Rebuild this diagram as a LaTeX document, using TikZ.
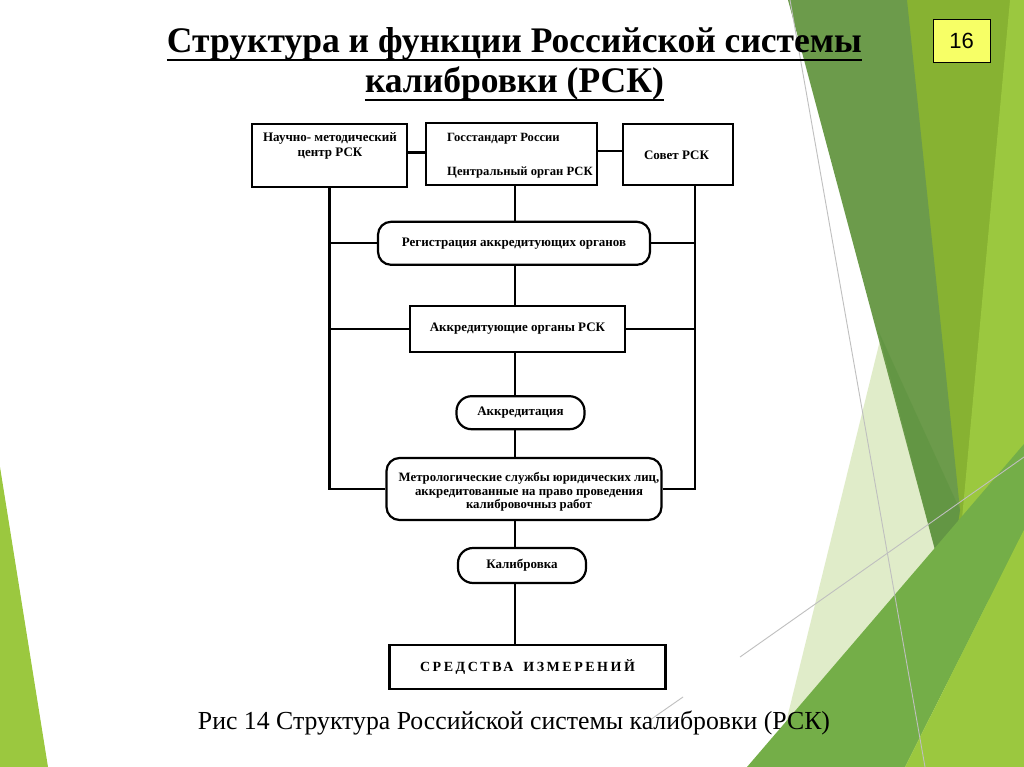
\documentclass[tikz,border=0pt]{standalone}
\usepackage{fontspec}
\setmainfont{Liberation Serif}
\newfontfamily\sansf{Liberation Sans}
\usetikzlibrary{calc}
\definecolor{gbright}{HTML}{9BC83F}
\definecolor{gmid}{HTML}{87B232}
\definecolor{gdark}{HTML}{6C9B4B}
\definecolor{gdeep}{HTML}{5E9440}
\definecolor{gpale}{HTML}{C8DE9E}
\definecolor{gmed}{HTML}{74AE48}
\definecolor{yellowbox}{HTML}{F7FF66}
\newcommand\dfont{\fontsize{13}{15}\selectfont\bfseries}
\tikzset{
  box/.style={draw, line width=2.2, inner sep=0, align=center, font=\dfont},
  rbox/.style={box, rounded corners=13},
  txt/.style={inner sep=0, align=center, font=\dfont},
  conn/.style={line width=2.2},
  thin grey/.style={draw=black!25, line width=0.9},
}
\begin{document}
\begin{tikzpicture}[x=1pt,y=-1pt]
\useasboundingbox (0,0) rectangle (1024,767);
\fill[white] (0,0) rectangle (1024,767);
% ---- background facets ----
\fill[gmid] (880,0) -- (1024,0) -- (1024,300) -- (955,580) -- cycle;
\fill[gbright] (1010,0) -- (1024,0) -- (1024,767) -- (939,767) -- cycle;
\fill[gpale, opacity=0.55] (775,767) -- (885,320) -- (1047,767) -- cycle;
\fill[gdark] (788,0) -- (907,0) -- (960,510) -- (947,595) -- cycle;
\fill[gdeep, opacity=0.6] (878,330) -- (960,510) -- (947,595) -- cycle;
\fill[gmed] (747,767) -- (1024,444) -- (1024,530) -- (905,767) -- cycle;
\fill[gbright] (905,767) -- (1024,530) -- (1024,767) -- cycle;
\fill[gbright] (0,467) -- (48,767) -- (0,767) -- cycle;
\draw[thin grey] (790,0) -- (925,767);
\draw[thin grey] (650,720) -- (683,697);
\draw[thin grey] (740,657) -- (1024,457);
% ---- page number ----
\node[draw=black, line width=0.8, fill=yellowbox, minimum width=57, minimum height=43, inner sep=0,
      font=\sansf\fontsize{22}{24}\selectfont] (pnum) at (961.5,40.5) {16};
% ---- title ----
\node[inner sep=0, anchor=base] (title1) at (514.5,53)
  {\resizebox{695pt}{\height}{\fontsize{36}{40}\selectfont\bfseries Структура и функции Российской системы}};
\node[inner sep=0, anchor=base] (title2) at (514.5,93)
  {\resizebox{299pt}{\height}{\fontsize{36}{40}\selectfont\bfseries калибровки (РСК)}};
\draw[line width=2.6] ([yshift=-7]title1.base west) -- ([yshift=-7]title1.base east);
\draw[line width=2.6] ([yshift=-7]title2.base west) -- ([yshift=-7]title2.base east);
% ---- diagram ----
\coordinate (cx) at (515,0);
\coordinate (rv) at (695,0);
\node[box, minimum width=155, minimum height=63] (nmc) at (329.5,155.5) {};
\node[txt] (nmct) at (330,146) {Научно- методический\\центр РСК};
\node[box, minimum width=171, minimum height=62] (gos) at (511.5,154) {};
\node[txt, anchor=west, align=left, font=\fontsize{12.6}{15}\selectfont\bfseries] (gost) at (447,156)
  {Госстандарт России\\[19pt]Центральный орган РСК};
\node[box, minimum width=110, minimum height=61] (sov) at (677.7,154.5) {};
\node[txt] (sovt) at (676.5,155) {Совет РСК};
\node[rbox, minimum width=272, minimum height=43] (reg) at (514,243.3) {Регистрация аккредитующих органов};
\node[box, minimum width=215, minimum height=46] (acc) at (517.5,329) {Аккредитующие органы РСК};
\node[rbox, rounded corners=15, minimum width=128, minimum height=33] (akk) at (520.5,412.7) {Аккредитация};
\node[rbox, minimum width=275, minimum height=62] (met) at (524,489) {};
\node[txt, font=\fontsize{12.8}{13.7}\selectfont\bfseries] (mett) at (529,492)
  {Метрологические службы юридических лиц,\\аккредитованные на право проведения\\калибровочныз работ};
\node[rbox, rounded corners=15, minimum width=128, minimum height=35] (kal) at (522,565.5) {Калибровка};
\node[box, minimum width=276, minimum height=44] (sred) at (527.5,667)
  {\fontsize{14}{15}\selectfont\bfseries\addfontfeature{LetterSpace=18}СРЕДСТВА\hbox to 10pt{}ИЗМЕРЕНИЙ};
% connectors
\draw[conn] ([yshift=3]nmc.east) -- ([yshift=3]nmc.east -| gos.west);
\draw[conn] ([yshift=3]gos.east) -- ([yshift=3]gos.east -| sov.west);
\draw[conn] (gos.south -| cx) -- (reg.north -| cx);
\draw[conn] (reg.south -| cx) -- (acc.north -| cx);
\draw[conn] (acc.south -| cx) -- (akk.north -| cx);
\draw[conn] (akk.south -| cx) -- (met.north -| cx);
\draw[conn] (met.south -| cx) -- (kal.north -| cx);
\draw[conn] (kal.south -| cx) -- (sred.north -| cx);
\draw[conn] (nmc.south) -- (nmc.south |- met.west) -- (met.west);
\draw[conn] (nmc.south |- reg.west) -- (reg.west);
\draw[conn] (nmc.south |- acc.west) -- (acc.west);
\draw[conn] (sov.south -| rv) -- (rv |- met.east) -- (met.east);
\draw[conn] (rv |- reg.east) -- (reg.east);
\draw[conn] (rv |- acc.east) -- (acc.east);
% ---- caption ----
\node[inner sep=0, anchor=base] (cap) at (514,729)
  {\resizebox{632pt}{\height}{\fontsize{26}{30}\selectfont Рис 14 Структура Российской системы калибровки (РСК)}};
\end{tikzpicture}
\end{document}
